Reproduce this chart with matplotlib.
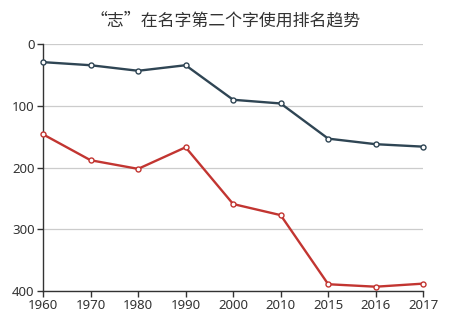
import matplotlib.pyplot as plt

plt.rcParams['font.family'] = ['Noto Sans CJK SC', 'DejaVu Sans']

# Ranking of "志" as the second character in given names
years = ['1960', '1970', '1980', '1990', '2000', '2010', '2015', '2016', '2017']
rank_a = [29, 34, 43, 34, 90, 96, 153, 162, 166]
rank_b = [146, 188, 202, 167, 259, 277, 389, 393, 388]

text_color = '#333333'

fig = plt.figure(figsize=(4.5, 3.23), dpi=100)
ax = fig.add_axes([0.0956, 0.099, 0.845, 0.764])

x = range(len(years))
ax.plot(x, rank_a, color='#2f4554', lw=1.7, marker='o', ms=3.6,
        mfc='white', mec='#2f4554', mew=1.0, zorder=3, clip_on=False)
ax.plot(x, rank_b, color='#c23531', lw=1.7, marker='o', ms=3.6,
        mfc='white', mec='#c23531', mew=1.0, zorder=3, clip_on=False)

ax.set_xlim(0, len(years) - 1)
ax.set_ylim(400, 0)
ax.set_xticks(list(x))
ax.set_xticklabels(years)
ax.set_yticks([0, 100, 200, 300, 400])

ax.grid(axis='y', color='#cccccc', lw=0.9)
ax.set_axisbelow(True)
for side in ('top', 'right'):
    ax.spines[side].set_visible(False)
for side in ('left', 'bottom'):
    ax.spines[side].set_color(text_color)
    ax.spines[side].set_linewidth(1.0)

ax.tick_params(axis='both', colors=text_color, length=4, width=1.0, pad=2)
for lbl in ax.get_xticklabels() + ax.get_yticklabels():
    lbl.set_family('Noto Sans')
    lbl.set_fontsize(9.5)

fig.text(0.502, 0.938, '“志”在名字第二个字使用排名趋势', ha='center', va='center',
         fontsize=12.2, color=text_color)

fig.savefig('out.png', dpi=100, facecolor='white')
